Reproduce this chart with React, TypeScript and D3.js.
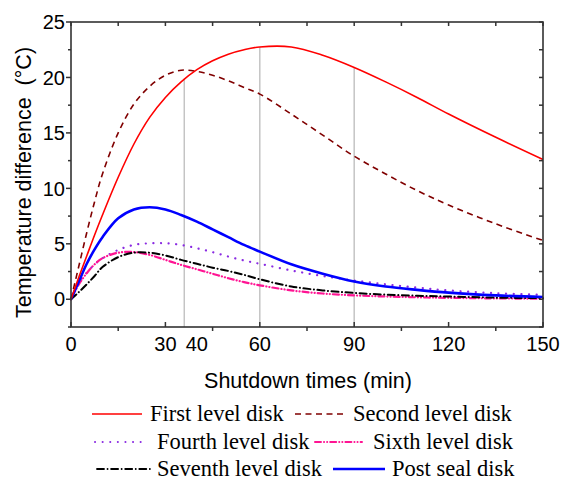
import React from "react";
import * as d3 from "d3";

// shutdown time grid (min) shared by all series
const times = [0, 2.5, 5, 7.5, 10, 15, 20, 25, 30, 35, 40, 45, 50, 55, 60, 70, 80, 90, 100, 110, 120, 135, 150];

const firstLevel = [0, 2.0, 3.9, 5.8, 7.6, 11.0, 14.0, 16.4, 18.2, 19.6, 20.7, 21.5, 22.1, 22.5, 22.75, 22.75, 22.0, 20.9, 19.6, 18.2, 16.7, 14.6, 12.6];
const secondLevel = [0, 3.0, 6.0, 8.8, 11.3, 15.0, 17.6, 19.2, 20.2, 20.65, 20.55, 20.2, 19.7, 19.1, 18.5, 16.7, 14.8, 12.9, 11.3, 9.8, 8.5, 6.8, 5.3];
const fourthLevel = [0, 1.5, 2.4, 3.15, 3.7, 4.45, 4.9, 5.05, 5.05, 4.9, 4.6, 4.25, 3.85, 3.5, 3.2, 2.6, 2.1, 1.7, 1.35, 1.05, 0.8, 0.55, 0.4];
const sixthLevel = [0, 1.35, 2.35, 3.15, 3.7, 4.2, 4.25, 4.0, 3.55, 3.1, 2.7, 2.3, 1.9, 1.55, 1.26, 0.8, 0.52, 0.35, 0.25, 0.18, 0.13, 0.08, 0.05];
const seventhLevel = [0, 0.65, 1.35, 2.1, 2.9, 3.8, 4.2, 4.2, 3.95, 3.55, 3.2, 2.85, 2.55, 2.2, 1.8, 1.15, 0.8, 0.57, 0.42, 0.32, 0.25, 0.15, 0.1];
const postSeal = [0, 1.6, 3.2, 4.5, 5.6, 7.3, 8.1, 8.3, 8.1, 7.6, 7.0, 6.3, 5.6, 4.9, 4.3, 3.15, 2.3, 1.6, 1.15, 0.85, 0.6, 0.35, 0.2];

// vertical reference lines (time, top value)
const refTimes = [36, 60, 90];
const refTops = [19.9, 22.75, 20.9];

const xMajor = [0, 30, 60, 90, 120, 150];
const xMinor = [15, 45, 75, 105, 135];
const xLabels = ["0", "30", "40", "60", "90", "120", "150"];
const xLabelPos = [0, 30, 40, 60, 90, 120, 150];
const yMajor = [0, 5, 10, 15, 20, 25];
const yMinor = [-2.5, 2.5, 7.5, 12.5, 17.5, 22.5];

const series = [
  { name: "First level disk", values: firstLevel, color: "#ff0000", width: 1.6, dash: "", cap: "butt" },
  { name: "Second level disk", values: secondLevel, color: "#800000", width: 1.6, dash: "6,4.5", cap: "butt" },
  { name: "Fourth level disk", values: fourthLevel, color: "#8a2be2", width: 2.2, dash: "0.1,7.5", cap: "round" },
  { name: "Sixth level disk", values: sixthLevel, color: "#ff1493", width: 2.2, dash: "6,3,0.1,3,0.1,3", cap: "round" },
  { name: "Seventh level disk", values: seventhLevel, color: "#000000", width: 2, dash: "7,3.5,0.1,3.5", cap: "round" },
  { name: "Post seal disk", values: postSeal, color: "#0000ff", width: 2.6, dash: "", cap: "butt" },
];

const drawOrder = [2, 3, 4, 5, 1, 0];

// legend layout: [lineX1, lineX2, textX, row]
const legendPos = [
  [92, 142, 150, 0],
  [295, 343, 353, 0],
  [95, 143, 157, 1],
  [315, 362, 373, 1],
  [97, 150, 157, 2],
  [333, 385, 392, 2],
];
const legendRowY = [414, 442, 469];

const W = 561;
const H = 480;
const m = { left: 71, right: 18, top: 22, bottom: 153 };

export default function App() {
  const x = d3.scaleLinear().domain([0, 150]).range([m.left, W - m.right]);
  const y = d3.scaleLinear().domain([-2.5, 25]).range([H - m.bottom, m.top]);
  const x0 = x(0), x1 = x(150), yTop = y(25), yBot = y(-2.5);

  const line = (vals: number[]) =>
    d3
      .line<number>()
      .x((_, i) => x(times[i]))
      .y((d) => y(d))
      .curve(d3.curveCatmullRom.alpha(0.5))(vals) || "";

  const axisColor = "#333";
  const tickFont = "'Liberation Sans', Arial, sans-serif";

  return (
    <svg width={W} height={H} style={{ position: "absolute", left: 0, top: 0, background: "#fff" }}>
      {/* reference lines */}
      {refTimes.map((t, i) => (
        <line key={"r" + i} x1={x(t)} x2={x(t)} y1={yBot} y2={y(refTops[i])} stroke="#c4c4c4" strokeWidth={1.5} />
      ))}

      {/* curves */}
      {drawOrder.map((k) => {
        const s = series[k];
        return (
          <path
            key={s.name}
            d={line(s.values)}
            fill="none"
            stroke={s.color}
            strokeWidth={s.width}
            strokeDasharray={s.dash || undefined}
            strokeLinecap={s.cap as any}
          />
        );
      })}

      {/* frame */}
      <rect x={x0} y={yTop} width={x1 - x0} height={yBot - yTop} fill="none" stroke={axisColor} strokeWidth={1.6} />

      {/* x ticks */}
      {xMajor.map((t) => (
        <g key={"xm" + t}>
          <line x1={x(t)} x2={x(t)} y1={yBot} y2={yBot - 5} stroke={axisColor} strokeWidth={1.5} />
          <line x1={x(t)} x2={x(t)} y1={yTop} y2={yTop + 4} stroke={axisColor} strokeWidth={1.5} />
        </g>
      ))}
      {xMinor.map((t) => (
        <g key={"xn" + t}>
          <line x1={x(t)} x2={x(t)} y1={yBot} y2={yBot + 4} stroke={axisColor} strokeWidth={1.5} />
          <line x1={x(t)} x2={x(t)} y1={yTop} y2={yTop + 4} stroke={axisColor} strokeWidth={1.5} />
        </g>
      ))}
      {xLabels.map((lab, i) => (
        <text key={"xl" + i} x={x(xLabelPos[i])} y={yBot + 24} textAnchor="middle" fontFamily={tickFont} fontSize={20} fill="#000">
          {lab}
        </text>
      ))}

      {/* y ticks */}
      {yMajor.map((v) => (
        <g key={"ym" + v}>
          <line x1={x0} x2={x0 - 5} y1={y(v)} y2={y(v)} stroke={axisColor} strokeWidth={1.5} />
          <line x1={x1} x2={x1 - 4} y1={y(v)} y2={y(v)} stroke={axisColor} strokeWidth={1.5} />
          <text x={x0 - 6} y={y(v)} dy="0.36em" textAnchor="end" fontFamily={tickFont} fontSize={20} fill="#000">
            {v}
          </text>
        </g>
      ))}
      {yMinor.map((v) => (
        <g key={"yn" + v}>
          <line x1={x0} x2={x0 - 3} y1={y(v)} y2={y(v)} stroke={axisColor} strokeWidth={1.5} />
          <line x1={x1} x2={x1 - 4} y1={y(v)} y2={y(v)} stroke={axisColor} strokeWidth={1.5} />
        </g>
      ))}

      {/* axis titles */}
      <text x={(x0 + x1) / 2 + 1} y={388} textAnchor="middle" fontFamily={tickFont} fontSize={21.5} fill="#000">
        Shutdown times (min)
      </text>
      <text
        transform={`translate(31, ${(yTop + yBot) / 2 + 8}) rotate(-90)`}
        textAnchor="middle"
        fontFamily={tickFont}
        fontSize={21.5}
        fill="#000"
        style={{ whiteSpace: "pre" }}
      >
        {"Temperature difference  (°C)"}
      </text>

      {/* legend */}
      {series.map((s, i) => {
        const [lx1, lx2, tx, row] = legendPos[i];
        const ly = legendRowY[row];
        return (
          <g key={"lg" + i}>
            <line
              x1={lx1}
              x2={lx2}
              y1={ly}
              y2={ly}
              stroke={s.color}
              strokeWidth={s.width * 0.9}
              strokeDasharray={s.dash || undefined}
              strokeLinecap={s.cap as any}
            />
            <text x={tx} y={ly + 6.5} fontFamily="'Liberation Serif', 'Times New Roman', serif" fontSize={22.5} fill="#000">
              {s.name}
            </text>
          </g>
        );
      })}
    </svg>
  );
}
